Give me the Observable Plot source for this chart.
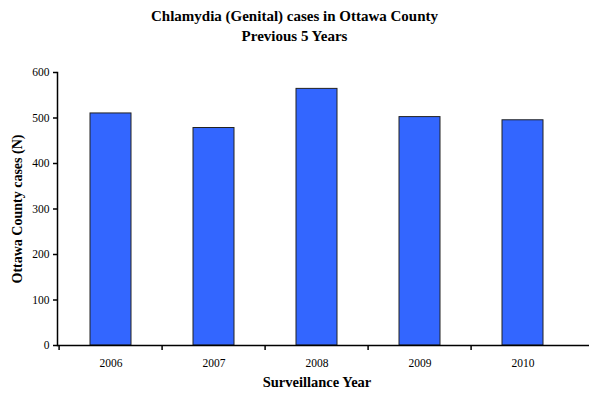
<!DOCTYPE html>
<html>
<head>
<meta charset="utf-8">
<script src="https://cdn.jsdelivr.net/npm/d3@7"></script>
<script src="https://cdn.jsdelivr.net/npm/@observablehq/plot@0.6"></script>
<style>
  html, body { margin: 0; padding: 0; background: #fff; }
  #wrap { position: relative; width: 589px; height: 395px; font-family: "Liberation Serif", "Times New Roman", serif; }
  #title { position: absolute; left: 0; top: 6px; width: 589px; text-align: center; font-weight: bold; font-size: 15px; line-height: 20px; color: #000; }
  #chart { position: absolute; left: 0; top: 0; }
  #chart svg, #chart svg text { font-family: "Liberation Serif", "Times New Roman", serif !important; }
</style>
</head>
<body>
<div id="wrap">
  <div id="chart"></div>
  <div id="title">Chlamydia (Genital) cases in Ottawa County<br>Previous 5 Years</div>
</div>
<script>
const years = ["2006", "2007", "2008", "2009", "2010"];
const cases = [510, 478, 564, 502, 495];
const yTicks = [0, 100, 200, 300, 400, 500, 600];
const xLabel = "Surveillance Year";
const yLabel = "Ottawa County cases (N)";

const data = years.map((y, i) => ({year: y, value: cases[i]}));

const W = 589, H = 395;
const left = 57, right = 576;
const step = (right - left) / years.length;

const plot = Plot.plot({
  width: W,
  height: H,
  marginLeft: left,
  marginRight: 0,
  marginTop: 72,
  marginBottom: 50,
  style: {fontFamily: "Liberation Serif", fontSize: "11px", color: "#000", background: "transparent"},
  x: {domain: years, range: [left, right], paddingInner: 0.6, paddingOuter: 0.3, label: null},
  y: {domain: [0, 600], label: null},
  marks: [
    Plot.barY(data, {x: "year", y: "value", fill: "#3366FF", stroke: "#222", strokeWidth: 1}),
    Plot.ruleY([0], {stroke: "#000", strokeWidth: 1.5}),
    Plot.frame({anchor: "left", stroke: "#000", strokeWidth: 1.5}),
    Plot.axisY({ticks: yTicks, tickSize: 4, tickPadding: 4, fontSize: 11.5, stroke: "#000", strokeWidth: 1.5, label: null}),
    Plot.axisX({ticks: years, tickSize: 5, tickFormat: () => "", dx: -step / 2, stroke: "#000", strokeWidth: 1.5, label: null}),
    Plot.axisX({ticks: years, tickSize: 0, tickPadding: 13, fontSize: 11.5, label: null}),
    Plot.text([xLabel], {frameAnchor: "bottom", lineAnchor: "middle", dy: 37, fontSize: 14.5, fontWeight: "bold", x: () => years[2]}),
    Plot.text([yLabel], {frameAnchor: "left", textAnchor: "middle", lineAnchor: "middle", dx: -40, rotate: -90, fontSize: 14, fontWeight: "bold"})
  ]
});
document.getElementById("chart").appendChild(plot);
</script>
</body>
</html>
